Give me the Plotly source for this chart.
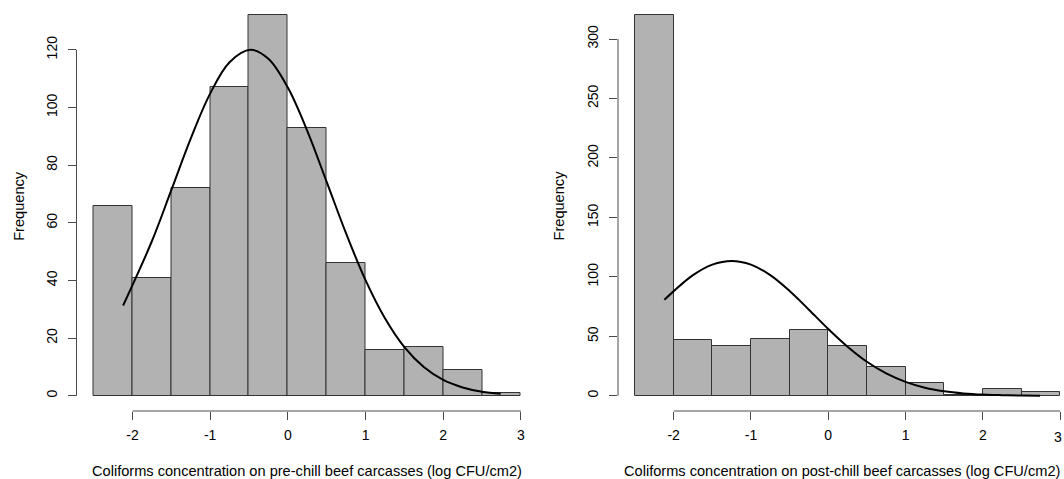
import plotly.graph_objects as go

# ---------------- data ----------------
bin_edges = [-2.5, -2.0, -1.5, -1.0, -0.5, 0.0, 0.5, 1.0, 1.5, 2.0, 2.5, 3.0]
pre_counts = [66, 41, 72, 107, 132, 93, 46, 16, 17, 9, 1]
post_counts = [320, 47, 42, 48, 55, 42, 24, 11, 1, 6, 3]

curve_x = [-2.12, -1.75, -1.5, -1.25, -1.0, -0.75, -0.48, -0.25, 0.0, 0.25, 0.5,
           0.75, 1.0, 1.25, 1.5, 1.75, 2.0, 2.25, 2.5, 2.74]
pre_curve_y = [31.3, 53.6, 71.3, 89.2, 104.8, 115.7, 120.0, 116.9, 106.9, 91.9, 74.2,
               56.3, 40.1, 26.9, 16.9, 10.0, 5.5, 2.9, 1.4, 0.7]
post_curve_x = [-2.12, -1.75, -1.5, -1.25, -1.0, -0.75, -0.5, -0.25, 0.0, 0.25, 0.5,
                0.75, 1.0, 1.25, 1.5, 1.75, 2.0, 2.25, 2.5, 2.74]
post_curve_y = [80.7, 101.4, 110.3, 113.4, 110.3, 101.4, 88.1, 72.4, 56.2, 41.3, 28.6,
                18.8, 11.7, 6.8, 3.8, 2.0, 1.0, 0.5, 0.2, 0.1]

x_ticks = [-2, -1, 0, 1, 2, 3]
x_tick_labels = ["-2", "-1", "0", "1", "2", "3"]
pre_y_ticks = [0, 20, 40, 60, 80, 100, 120]
post_y_ticks = [0, 50, 100, 150, 200, 250, 300]

pre_title = "Coliforms concentration on pre-chill beef carcasses (log CFU/cm2)"
post_title = "Coliforms concentration on post-chill beef carcasses (log CFU/cm2)"
y_title = "Frequency"

# ---------------- styling / layout ----------------
W, H = 1064, 479
FONT = "Liberation Sans, Arial, Helvetica, sans-serif"
BAR_FILL = "#b2b2b2"
BAR_LINE = "#333333"
AXIS_COL = "#4a4a4a"
TICK_SIZE = 14
TITLE_SIZE = 14.6

centers = [(a + b) / 2 for a, b in zip(bin_edges[:-1], bin_edges[1:])]
widths = [b - a for a, b in zip(bin_edges[:-1], bin_edges[1:])]

fig = go.Figure()
fig.add_trace(go.Bar(x=centers, y=pre_counts, width=widths, xaxis="x", yaxis="y",
                     marker=dict(color=BAR_FILL, line=dict(color=BAR_LINE, width=1)),
                     showlegend=False, hoverinfo="skip"))
fig.add_trace(go.Scatter(x=curve_x, y=pre_curve_y, mode="lines", line_shape="spline",
                         line=dict(color="black", width=2), xaxis="x", yaxis="y",
                         showlegend=False, hoverinfo="skip"))
fig.add_trace(go.Bar(x=centers, y=post_counts, width=widths, xaxis="x2", yaxis="y2",
                     marker=dict(color=BAR_FILL, line=dict(color=BAR_LINE, width=1)),
                     showlegend=False, hoverinfo="skip"))
fig.add_trace(go.Scatter(x=post_curve_x, y=post_curve_y, mode="lines", line_shape="spline",
                         line=dict(color="black", width=2), xaxis="x2", yaxis="y2",
                         showlegend=False, hoverinfo="skip"))

# R-style ranges: data range extended by 4%
xr = [bin_edges[0] - 0.04 * (bin_edges[-1] - bin_edges[0]),
      bin_edges[-1] + 0.04 * (bin_edges[-1] - bin_edges[0])]
pre_max = max(pre_counts)
post_max = max(post_counts)

left_px = (76.5, 538.0)
right_px = (618.0, 1064.0)
px_per_unit_right = 77.3
right_range = [xr[0], xr[0] + (right_px[1] - right_px[0]) / px_per_unit_right]

ydom = [(H - 411.0) / H, 1.0]

common_x = dict(showgrid=False, zeroline=False, showline=False, ticks="outside",
                ticklen=8, tickwidth=1, tickcolor=AXIS_COL, tickvals=x_ticks,
                tickfont=dict(family=FONT, size=TICK_SIZE, color="black"),
                ticklabelstandoff=3)
common_y = dict(showgrid=False, zeroline=False, showline=False, ticks="outside",
                ticklen=8, tickwidth=1, tickcolor=AXIS_COL, tickangle=-90,
                tickfont=dict(family=FONT, size=TICK_SIZE, color="black"),
                ticklabelstandoff=5)

# the right panel's last tick label sits at the very page edge: drawn as annotation
right_tick_text = x_tick_labels[:-1] + [""]

fig.update_layout(
    width=W, height=H,
    margin=dict(l=0, r=0, t=0, b=0),
    paper_bgcolor="white", plot_bgcolor="white",
    bargap=0,
    xaxis=dict(domain=[left_px[0] / W, left_px[1] / W], range=xr, anchor="y",
               ticktext=x_tick_labels, **common_x),
    yaxis=dict(domain=ydom, range=[-0.04 * pre_max, 1.04 * pre_max], anchor="x",
               tickvals=pre_y_ticks, ticktext=[str(v) for v in pre_y_ticks], **common_y),
    xaxis2=dict(domain=[right_px[0] / W, right_px[1] / W], range=right_range, anchor="y2",
                ticktext=right_tick_text, **common_x),
    yaxis2=dict(domain=ydom, range=[-0.04 * post_max, 1.04 * post_max], anchor="x2",
                tickvals=post_y_ticks, ticktext=[str(v) for v in post_y_ticks], **common_y),
)

fig.add_annotation(text=x_tick_labels[-1], xref="paper", yref="paper", x=1.0,
                   y=(H - 437.0) / H, xanchor="right", yanchor="middle", showarrow=False,
                   font=dict(family=FONT, size=TICK_SIZE, color="black"))

# detached R-style axis lines (span first..last tick only)
for xa, ya, yt in (("x", "y", pre_y_ticks), ("x2", "y2", post_y_ticks)):
    fig.add_shape(type="line", xref=xa, yref=f"{ya} domain", x0=x_ticks[0], x1=x_ticks[-1],
                  y0=0, y1=0, line=dict(color=AXIS_COL, width=1))
    fig.add_shape(type="line", xref=f"{xa} domain", yref=ya, x0=0, x1=0,
                  y0=yt[0], y1=yt[-1], line=dict(color=AXIS_COL, width=1))

# axis titles
title_font = dict(family=FONT, size=TITLE_SIZE, color="black")
xmid = (xr[0] + xr[1]) / 2
title_y = (H - 470.7) / H
fig.add_annotation(text=pre_title, xref="x", yref="paper", x=xmid, y=title_y,
                   showarrow=False, xanchor="center", yanchor="middle", font=title_font)
fig.add_annotation(text=post_title, xref="paper", yref="paper", x=1062.0 / W, y=title_y,
                   showarrow=False, xanchor="right", yanchor="middle", font=title_font)
fig.add_annotation(text=y_title, xref="paper", yref="y domain", x=18.3 / W, y=0.5,
                   textangle=-90, showarrow=False, xanchor="center", yanchor="middle",
                   font=title_font)
fig.add_annotation(text=y_title, xref="paper", yref="y2 domain", x=558.0 / W, y=0.5,
                   textangle=-90, showarrow=False, xanchor="center", yanchor="middle",
                   font=title_font)

fig.write_html("out.html")
